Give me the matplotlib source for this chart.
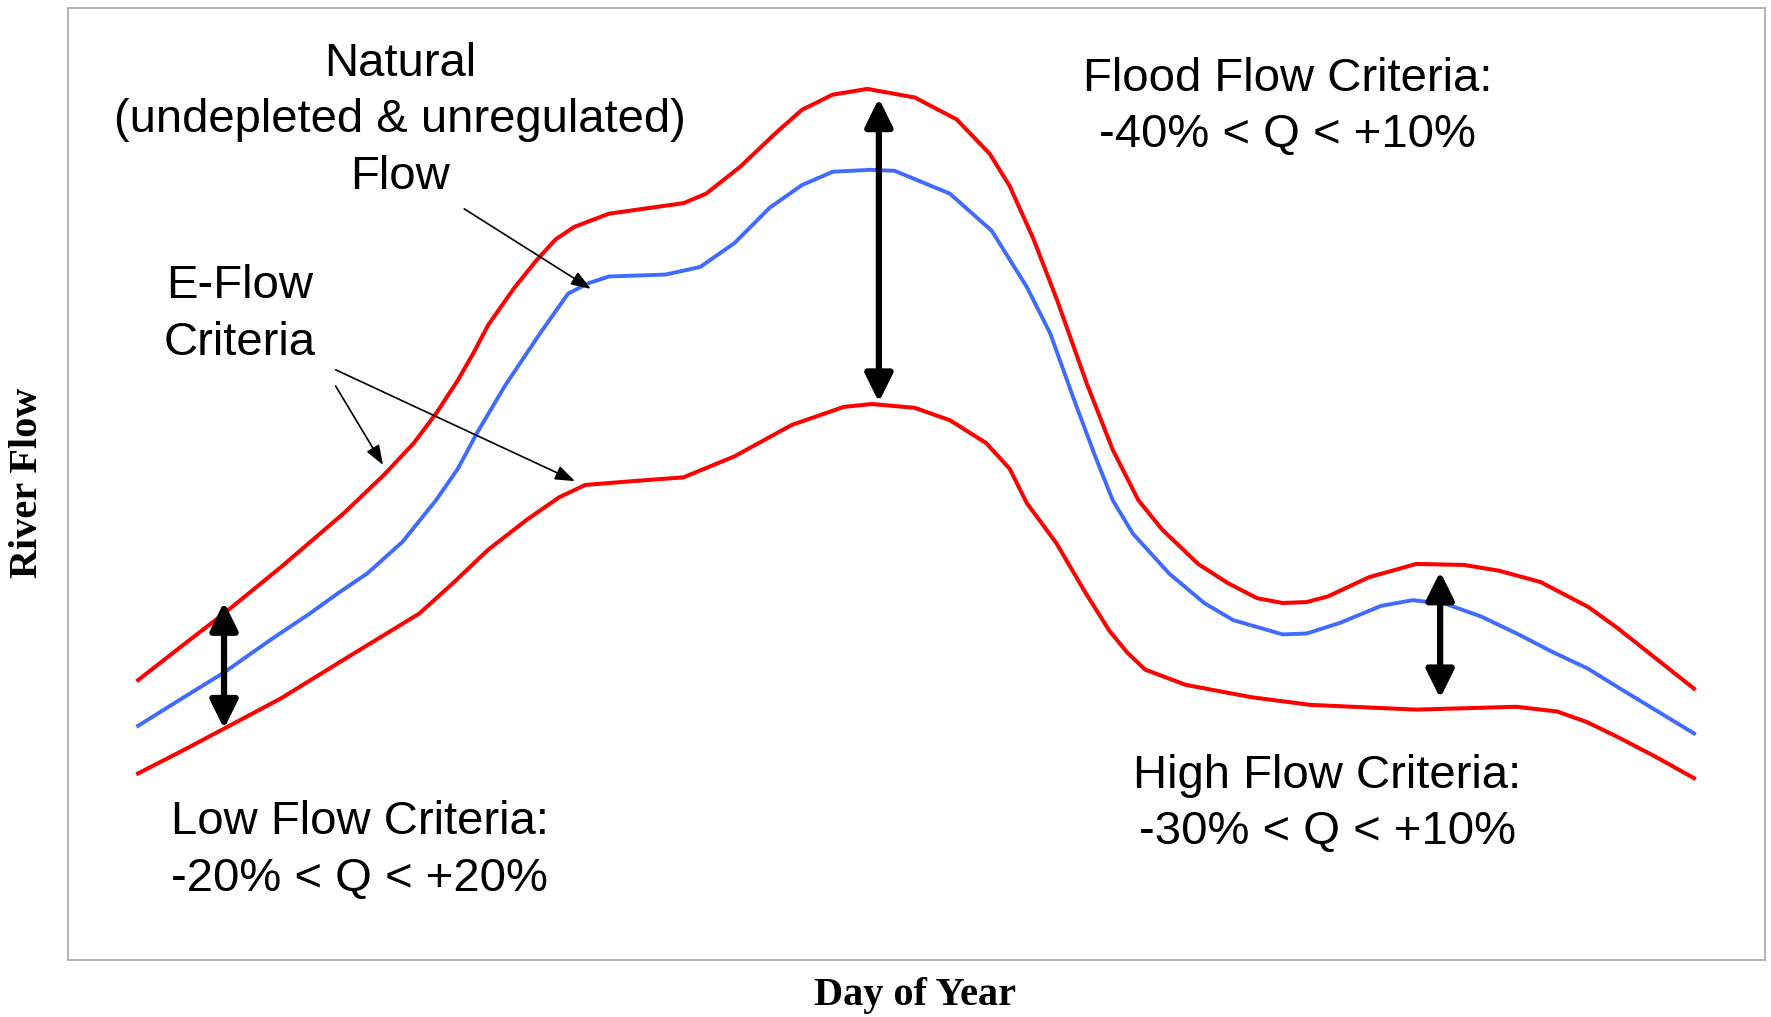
import matplotlib
matplotlib.use("Agg")
import matplotlib.pyplot as plt

# natural (undepleted & unregulated) flow, day of year vs flow (arbitrary units)
natural_day = [1.0, 11.0, 21.1, 32.2, 41.2, 48.0, 54.6, 62.8, 70.7, 75.8, 80.2, 86.8,
               95.0, 101.6, 106.4, 111.2, 124.4, 132.5, 140.5, 148.7, 156.3, 163.5,
               172.2, 178.0, 190.9, 200.7, 208.9, 214.4, 220.0, 225.0, 229.0, 233.7,
               242.2, 250.4, 257.2, 268.8, 274.4, 282.1, 291.8, 299.2, 306.9, 315.1,
               323.5, 331.7, 340.2, 347.0, 365.0]
natural_flow = [24.6, 27.4, 30.2, 33.7, 36.4, 38.6, 40.6, 43.9, 48.3, 51.6, 55.3, 60.3,
                65.8, 70.0, 71.1, 71.8, 72.0, 72.8, 75.3, 79.0, 81.4, 82.8,
                83.0, 82.9, 80.5, 76.6, 70.7, 65.8, 58.8, 52.8, 48.3, 44.8,
                40.6, 37.5, 35.7, 34.2, 34.3, 35.4, 37.2, 37.8, 37.4, 36.1,
                34.3, 32.4, 30.6, 28.7, 23.8]

# upper e-flow criteria
upper_day = [1.0, 11.0, 21.1, 34.5, 49.3, 58.6, 65.5, 70.7, 75.8, 79.5, 82.9, 89.0, 94.2,
             98.7, 103.0, 111.2, 128.6, 133.9, 141.8, 150.0, 156.3, 163.5, 171.6,
             182.7, 192.5, 200.2, 204.9, 210.5, 216.0, 222.9, 229.0, 235.0, 240.6,
             249.0, 255.9, 262.8, 268.8, 274.4, 279.4, 288.9, 300.0, 311.1, 319.3,
             329.1, 340.2, 347.0, 365.0]
upper_flow = [29.4, 32.9, 36.4, 41.3, 47.0, 51.0, 54.3, 57.4, 60.9, 63.8, 66.7, 70.6, 73.5,
              75.7, 77.0, 78.4, 79.5, 80.5, 83.3, 86.8, 89.3, 90.9, 91.5,
              90.6, 88.3, 84.7, 81.3, 75.7, 69.3, 60.6, 53.6, 48.3, 45.2,
              41.6, 39.6, 38.0, 37.5, 37.6, 38.2, 40.2, 41.6, 41.5, 40.9,
              39.7, 37.1, 34.9, 28.5]

# lower e-flow criteria
lower_day = [1.0, 11.0, 21.1, 34.5, 49.3, 66.8, 74.7, 82.9, 92.1, 99.5, 105.6, 116.7,
             128.6, 140.5, 153.9, 166.1, 172.7, 182.7, 190.9, 199.4, 204.9, 208.9,
             215.8, 222.6, 228.2, 232.4, 236.6, 246.1, 261.5, 275.2, 300.0, 323.5,
             333.0, 339.9, 346.8, 355.8, 365.0]
lower_flow = [19.6, 21.9, 24.3, 27.5, 31.6, 36.4, 39.6, 43.1, 46.3, 48.6, 49.9, 50.3,
              50.7, 52.9, 56.2, 58.1, 58.4, 58.0, 56.7, 54.3, 51.6, 48.0,
              43.8, 38.6, 34.6, 32.3, 30.5, 28.9, 27.6, 26.8, 26.3, 26.6,
              26.1, 25.0, 23.5, 21.4, 19.1]

# range arrows: (day, top flow, bottom flow)
low_arrow = (21.1, 37.6, 24.3)
flood_arrow = (174.3, 90.5, 58.6)
high_arrow = (305.6, 40.8, 27.5)

fig = plt.figure(figsize=(17.71, 10.17), dpi=100)
ax = fig.add_axes([68 / 1771, 57 / 1017, 1697 / 1771, 952 / 1017])

ax.plot(upper_day, upper_flow, color="#ff0000", lw=2.9, solid_joinstyle="round")
ax.plot(lower_day, lower_flow, color="#ff0000", lw=2.9, solid_joinstyle="round")
ax.plot(natural_day, natural_flow, color="#3f6cff", lw=2.8, solid_joinstyle="round")

ax.set_xlim(-15.4, 381.6)
ax.set_ylim(0, 100)
ax.set_xticks([])
ax.set_yticks([])
for spine in ax.spines.values():
    spine.set_color("#a0a0a0")
    spine.set_linewidth(1.1)

# thick double-headed arrows
for x, top, bottom in [low_arrow, flood_arrow, high_arrow]:
    ax.annotate("", xy=(x, top), xytext=(x, bottom),
                arrowprops=dict(arrowstyle="<|-|>,head_length=0.85,head_width=0.42",
                                color="black", lw=4.5, mutation_scale=20,
                                shrinkA=0, shrinkB=0))

# thin pointer arrows
thin = dict(arrowstyle="-|>,head_length=0.6,head_width=0.22", color="black",
            lw=1.2, mutation_scale=20, shrinkA=0, shrinkB=0)
ax.annotate("", xy=(106.9, 70.5), xytext=(77.3, 78.9), arrowprops=thin)
ax.annotate("", xy=(58.3, 52.0), xytext=(47.2, 60.3), arrowprops=thin)
ax.annotate("", xy=(103.2, 50.3), xytext=(47.2, 62.0), arrowprops=thin)

font = dict(family="Liberation Sans", fontsize=34, ha="center", va="center",
            linespacing=1.36)
ax.text(62.3, 88.2, "Natural\n(undepleted & unregulated)\nFlow", **font)
ax.text(24.8, 67.8, "E-Flow\nCriteria", **font)
ax.text(269.9, 89.6, "Flood Flow Criteria:\n-40% < Q < +10%", **font)
ax.text(52.8, 11.5, "Low Flow Criteria:\n-20% < Q < +20%", **font)
ax.text(279.2, 16.4, "High Flow Criteria:\n-30% < Q < +10%", **font)

fig.text(28 / 1771, 1 - 483 / 1017, "River Flow", family="Liberation Serif",
         fontweight="bold", fontsize=29, rotation=90, ha="center", va="center")
fig.text(915 / 1771, 1 - 996 / 1017, "Day of Year", family="Liberation Serif",
         fontweight="bold", fontsize=29, ha="center", va="center")

fig.savefig("out.png", dpi=100)
